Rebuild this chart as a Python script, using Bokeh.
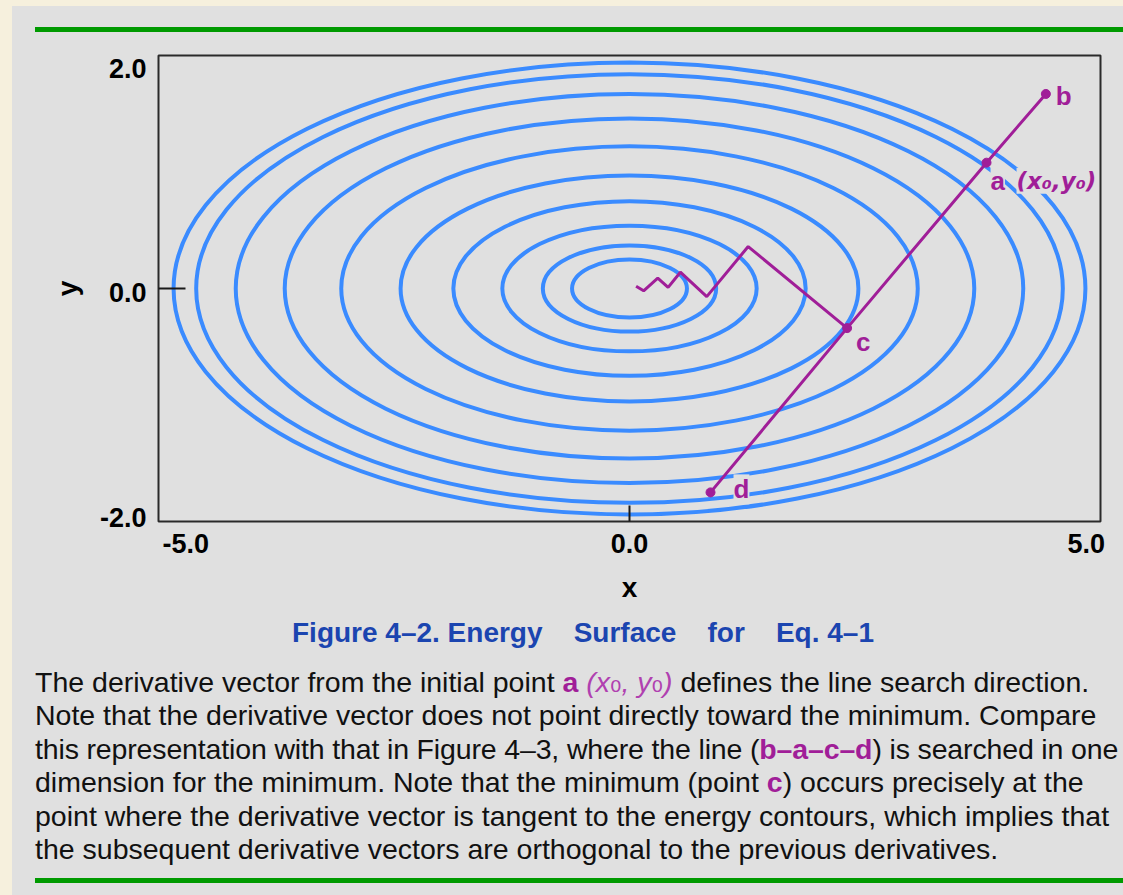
from bokeh.plotting import figure
from bokeh.models import LinearAxis, FixedTicker, Label, Div, ColumnDataSource, Range1d
from bokeh.layouts import column
from bokeh.embed import file_html
from bokeh.resources import INLINE

# ---------------- data ----------------
contour_a = [4.84, 4.60, 4.18, 3.66, 3.06, 2.43, 1.87, 1.35, 0.92, 0.61]   # semi-axis along x
contour_b = [1.94, 1.84, 1.67, 1.46, 1.22, 0.97, 0.75, 0.54, 0.37, 0.25]   # semi-axis along y

search_names = ["b", "a", "c", "d"]
search_x = [4.42, 3.79, 2.31, 0.86]
search_y = [1.67, 1.08, -0.34, -1.75]

zigzag_x = [2.31, 1.26, 0.82, 0.54, 0.41, 0.30, 0.15, 0.07]
zigzag_y = [-0.34, 0.36, -0.07, 0.14, 0.01, 0.09, -0.02, 0.02]

x_tick_labels = ["-5.0", "0.0", "5.0"]
y_tick_labels = ["-2.0", "0.0", "2.0"]

# ---------------- layout / style constants ----------------
x_label_pos = [-4.71, 0.0, 4.85]
y_label_pos = [-1.966, -0.034, 1.89]

PANEL = "#e0e0e0"
BEIGE = "#f6f0dd"
GREEN = "#009a00"
BLUE = "#3a8bff"
MAG = "#a01e98"
CAPTION = "#1b45b0"
FONT = "Liberation Sans"

# grey panel starts at page x=12, y=6 (body margin set to 0 below)
p = figure(width=1111, height=574, x_range=Range1d(-5, 5), y_range=Range1d(-2, 2),
           output_backend="svg", toolbar_location=None,
           x_axis_location=None, y_axis_location=None,
           min_border_left=146, min_border_right=23, min_border_top=13, min_border_bottom=95,
           background_fill_color=PANEL, border_fill_color=PANEL,
           outline_line_color="#2a2a2a", outline_line_width=2)
p.xgrid.visible = False
p.ygrid.visible = False


def style_axis(ax, minor_len):
    ax.axis_line_color = None
    ax.major_tick_line_color = None
    ax.major_tick_in = 0
    ax.major_tick_out = 0
    ax.minor_tick_in = minor_len
    ax.minor_tick_out = 0
    ax.minor_tick_line_color = "#1a1a1a"
    ax.minor_tick_line_width = 2
    ax.major_label_text_font = FONT
    ax.major_label_text_font_style = "bold"
    ax.major_label_text_font_size = "27px"
    ax.major_label_text_color = "#000000"
    ax.major_label_standoff = 12
    ax.axis_label_text_font = FONT
    ax.axis_label_text_font_style = "bold"
    ax.axis_label_text_font_size = "28px"
    ax.axis_label_text_color = "#000000"


xax = LinearAxis(ticker=FixedTicker(ticks=x_label_pos, minor_ticks=[0.0]),
                 major_label_overrides={pos: lab for pos, lab in zip(x_label_pos, x_tick_labels)},
                 axis_label="x")
style_axis(xax, 16)
xax.axis_label_standoff = 16
p.add_layout(xax, "below")

yax = LinearAxis(ticker=FixedTicker(ticks=y_label_pos, minor_ticks=[0.0]),
                 major_label_overrides={pos: lab for pos, lab in zip(y_label_pos, y_tick_labels)},
                 axis_label="y")
style_axis(yax, 27)
yax.axis_label_standoff = 14
p.add_layout(yax, "left")

# energy contours
csrc = ColumnDataSource(dict(x=[0.0] * len(contour_a), y=[0.0] * len(contour_a),
                             w=[2 * a for a in contour_a], h=[2 * b for b in contour_b]))
p.ellipse(x="x", y="y", width="w", height="h", source=csrc,
          fill_color=None, line_color=BLUE, line_width=4)

# line search b-a-c-d and subsequent steps
p.line(zigzag_x, zigzag_y, line_color=MAG, line_width=3)
p.line(search_x, search_y, line_color=MAG, line_width=3)
p.scatter(search_x, search_y, size=9, fill_color=MAG, line_color=MAG)

# point labels
offsets = {"b": (10, -2), "a": (4, -18), "c": (9, -14), "d": (23, 3)}
for name, xv, yv in zip(search_names, search_x, search_y):
    dx, dy = offsets[name]
    p.add_layout(Label(x=xv, y=yv, x_offset=dx, y_offset=dy, text=name,
                       text_font=FONT, text_font_style="bold", text_font_size="26px",
                       text_color=MAG, text_baseline="middle", text_align="left",
                       background_fill_color=PANEL))
p.add_layout(Label(x=search_x[1], y=search_y[1], x_offset=30, y_offset=-18, text="(x₀,y₀)",
                   text_font="DejaVu Sans", text_font_style="bold italic", text_font_size="23px",
                   text_color=MAG, text_baseline="middle", text_align="left",
                   background_fill_color=PANEL))

# ---------------- surrounding text ----------------
top_div = Div(width=1111, height=36, margin=0, styles={"background-color": PANEL},
              text=f'<div style="position:relative;width:1111px;height:36px;">'
                   f'<div style="position:absolute;left:23px;top:21px;width:1088px;height:5px;'
                   f'background:{GREEN};"></div></div>')

M = f"color:{MAG};font-weight:bold;"
MI = "color:#b040b0;font-style:italic;"
SUB = "font-family:'DejaVu Sans';font-style:normal;"
para = (
    f'The derivative vector from the initial point <span style="{M}">a</span> '
    f'<span style="{MI}">(x<span style="{SUB}">₀</span>, y<span style="{SUB}">₀</span>)</span> '
    f'defines the line search direction.<br>'
    f'Note that the derivative vector does not point directly toward the minimum. Compare<br>'
    f'<span style="letter-spacing:-0.15px;">this representation with that in Figure 4–3, where the line '
    f'(<span style="{M}">b–a–c–d</span>) is searched in one</span><br>'
    f'dimension for the minimum. Note that the minimum (point <span style="{M}">c</span>) '
    f'occurs precisely at the<br>'
    f'point where the derivative vector is tangent to the energy contours, which implies that<br>'
    f'the subsequent derivative vectors are orthogonal to the previous derivatives.'
)
GAP = "&nbsp;" * 4
text_html = (
    f'<div style="position:relative;width:1111px;height:279px;overflow:hidden;'
    f'font-family:\'{FONT}\';">'
    f'<div style="position:absolute;left:280px;top:0px;line-height:34px;font-size:28px;'
    f'font-weight:bold;color:{CAPTION};white-space:nowrap;">'
    f'Figure 4–2. Energy{GAP}Surface{GAP}for{GAP}Eq. 4–1</div>'
    f'<div style="position:absolute;left:23px;top:50px;line-height:33.4px;font-size:28.5px;'
    f'color:#111;white-space:nowrap;">{para}</div>'
    f'<div style="position:absolute;left:23px;top:262px;width:1088px;height:5px;'
    f'background:{GREEN};"></div>'
    f'</div>'
)
text_div = Div(width=1111, height=279, margin=0, styles={"background-color": PANEL}, text=text_html)

layout = column(top_div, p, text_div, spacing=0, margin=(6, 0, 0, 12),
                styles={"background-color": PANEL})

html = file_html(layout, INLINE)
page_css = (f"<style>html,body{{margin:0 !important;padding:0;background:{BEIGE};"
            f"overflow:hidden;}}</style>")
html = html.replace("</head>", page_css + "</head>", 1)
open("out.html", "w").write(html)
